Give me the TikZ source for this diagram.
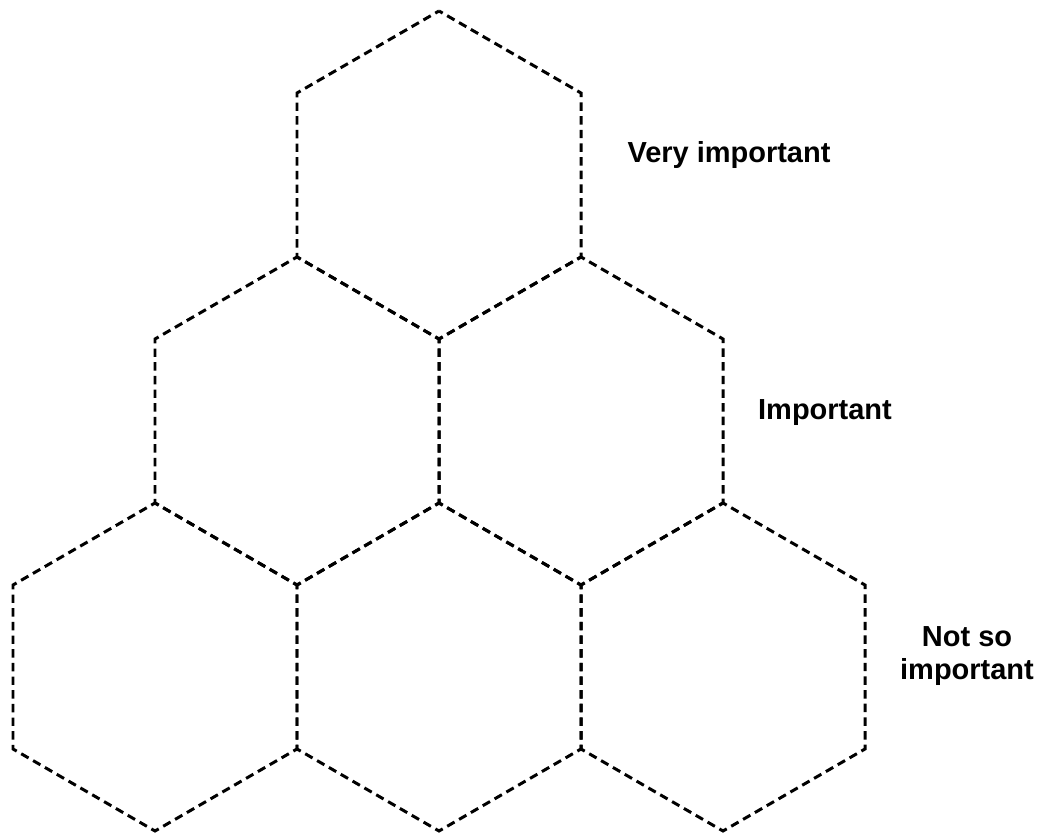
\documentclass[tikz,border=0pt]{standalone}
\usepackage{fontspec}
\setmainfont{Liberation Sans}
\usepackage{tikz}

% edge = 164 units = 93.325pt, 12 dash periods per edge
\tikzset{
	hexline/.style={black, line width=1.7pt, dash pattern=on 4.8pt off 2.977pt, dash phase=2.4pt},
	lbl/.style={font=\fontsize{16.5}{19}\selectfont\bfseries, align=center},
}

\begin{document}
\begin{tikzpicture}[x=0.02cm, y=0.02cm]
		\useasboundingbox (0,0) rectangle (1037,834);
		
		% hexagons, pointy top, one row per level
		\foreach \cx/\cy in {439/659, 297/413, 581/413, 155/167, 439/167, 723/167}
		{
			\draw[hexline] (\cx,\cy) ++(0,164) -- ++(142,-82) -- ++(0,-164) -- ++(-142,-82)
				-- ++(-142,82) -- ++(0,164) -- cycle;
		}
		
		\node[lbl] (veryimp) at (729,679) {Very important};
		\node[lbl] (imp) at (825,421) {Important};
		\node[lbl] (notimp) at (967,178) {Not so\\important};
	\end{tikzpicture}
\end{document}
